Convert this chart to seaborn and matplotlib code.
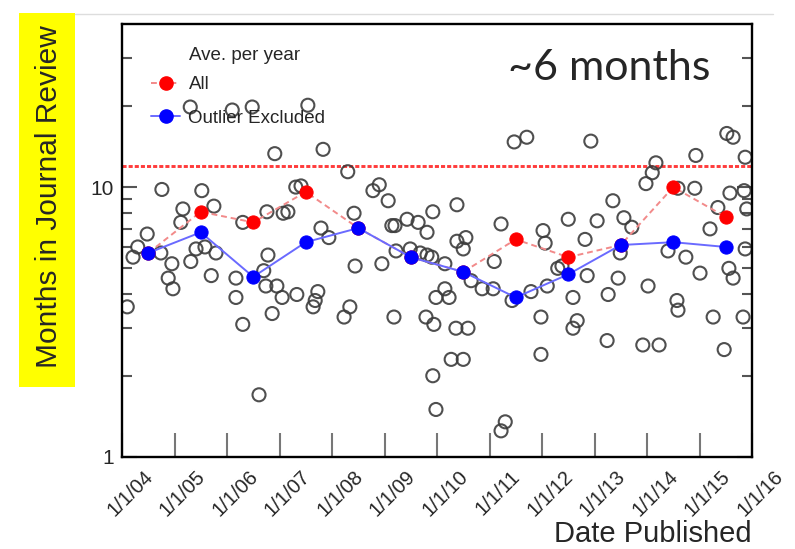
import matplotlib
matplotlib.use("Agg")
import matplotlib.pyplot as plt
import seaborn as sns
from matplotlib.lines import Line2D
from matplotlib.patches import Rectangle
from matplotlib.transforms import ScaledTranslation
from matplotlib.ticker import FixedLocator, FixedFormatter, NullFormatter

# Individual papers: publication date (decimal year) and months spent in review
pub_date = [
    2004.10, 2004.21, 2004.30, 2004.48, 2004.74, 2004.76, 2004.88, 2004.95, 2004.97,
    2005.12, 2005.16, 2005.30, 2005.31, 2005.41, 2005.52, 2005.58, 2005.70, 2005.75, 2005.79,
    2006.10, 2006.17, 2006.17, 2006.30, 2006.30, 2006.48, 2006.61, 2006.70, 2006.76, 2006.74,
    2006.78, 2006.86, 2006.91, 2006.95,
    2007.05, 2007.07, 2007.16, 2007.31, 2007.33, 2007.41, 2007.54, 2007.64, 2007.68, 2007.73,
    2007.79, 2007.83, 2007.94,
    2008.23, 2008.30, 2008.34, 2008.42, 2008.44, 2008.78, 2008.90, 2008.95,
    2009.07, 2009.14, 2009.20, 2009.18, 2009.22, 2009.43, 2009.49, 2009.64, 2009.68, 2009.81,
    2009.90, 2009.81, 2009.79, 2009.92, 2009.94, 2009.92, 2009.98, 2009.98,
    2010.15, 2010.15, 2010.23, 2010.27, 2010.36, 2010.38, 2010.38, 2010.50, 2010.55, 2010.50,
    2010.59, 2010.65, 2010.86,
    2011.07, 2011.09, 2011.22, 2011.22, 2011.30, 2011.43, 2011.47, 2011.71, 2011.79, 2011.98,
    2011.98,
    2012.02, 2012.06, 2012.10, 2012.30, 2012.38, 2012.50, 2012.59, 2012.59, 2012.67, 2012.82,
    2012.86, 2012.93,
    2013.05, 2013.24, 2013.26, 2013.35, 2013.45, 2013.49, 2013.56, 2013.71, 2013.92, 2013.98,
    2014.02, 2014.10, 2014.17, 2014.23, 2014.40, 2014.57, 2014.59, 2014.59, 2014.74, 2014.91,
    2014.93,
    2015.01, 2015.20, 2015.26, 2015.35, 2015.47, 2015.52, 2015.64, 2015.56, 2015.64, 2015.58,
    2015.83, 2015.85, 2015.87, 2015.87, 2015.90,
]
review_months = [
    3.6, 5.5, 6.0, 6.7, 5.7, 9.8, 4.6, 5.2, 4.2,
    7.4, 8.3, 19.8, 5.3, 5.9, 9.7, 6.0, 4.7, 8.5, 5.7,
    19.3, 4.6, 3.9, 7.4, 3.1, 19.8, 1.7, 4.9, 8.1, 4.3,
    5.6, 3.4, 13.3, 4.3,
    3.9, 8.0, 8.1, 10.0, 4.0, 10.1, 20.1, 3.6, 3.8, 4.1,
    7.05, 13.8, 6.5,
    3.3, 11.4, 3.6, 8.0, 5.1, 9.7, 10.2, 5.2,
    8.9, 7.2, 7.2, 3.3, 5.8, 7.6, 5.9, 7.4, 5.7, 5.6,
    5.5, 6.8, 3.3, 8.1, 3.1, 2.0, 3.9, 1.5,
    5.2, 4.2, 3.9, 2.3, 3.0, 8.6, 6.3, 5.9, 6.5, 2.3,
    3.0, 4.5, 4.2,
    4.2, 5.3, 7.3, 1.25, 1.35, 3.8, 14.7, 15.3, 4.1, 3.3,
    2.4,
    6.9, 6.2, 4.3, 5.0, 5.1, 7.6, 3.9, 3.0, 3.2, 6.4,
    4.7, 14.8,
    7.5, 2.7, 4.0, 8.9, 4.6, 5.7, 7.7, 7.1, 2.6, 10.3,
    4.3, 11.3, 12.3, 2.6, 5.8, 3.8, 3.5, 9.9, 5.5, 9.9,
    13.1,
    4.8, 7.0, 3.3, 8.4, 2.5, 15.8, 15.3, 5.0, 4.6, 9.5,
    3.3, 9.7, 12.9, 5.9, 8.3,
]

# Yearly averages, plotted at mid-year
avg_year = [2004.5, 2005.5, 2006.5, 2007.5, 2008.5, 2009.5,
            2010.5, 2011.5, 2012.5, 2013.5, 2014.5, 2015.5]
avg_all = [5.7, 8.1, 7.4, 9.6, 7.05, 5.5, 4.85, 6.4, 5.5, 6.1, 10.0, 7.75]
avg_excluded = [5.7, 6.8, 4.65, 6.25, 7.05, 5.5, 4.85, 3.9, 4.75, 6.1, 6.25, 6.0]

# Overall mean over all papers
overall_mean = 12.0

year_ticks = [2004, 2005, 2006, 2007, 2008, 2009, 2010, 2011, 2012, 2013, 2014, 2015, 2016]
year_labels = ["1/1/04", "1/1/05", "1/1/06", "1/1/07", "1/1/08", "1/1/09", "1/1/10",
               "1/1/11", "1/1/12", "1/1/13", "1/1/14", "1/1/15", "1/1/16"]
month_ticks = [1, 10]
month_labels = ["1", "10"]
month_minor = [2, 3, 4, 5, 6, 7, 8, 9, 20, 30]

sns.set_style("white")
plt.rcParams["font.family"] = ["Liberation Sans", "DejaVu Sans"]

W, H = 795, 549
fig = plt.figure(figsize=(W / 100, H / 100), dpi=100)
ax = fig.add_axes([122 / W, 1 - 457 / H, 630 / W, 433 / H])

# individual papers
sns.scatterplot(x=pub_date, y=review_months, ax=ax, s=88, marker="o",
                facecolor="none", edgecolor="#3c3c3c", linewidth=1.5,
                alpha=0.9, zorder=2)

# overall mean
ax.axhline(overall_mean, color="#ff3b3b", linestyle=(0, (1.4, 0.7)),
           linewidth=2.1, zorder=1)

# yearly averages
red_line = "#f28a8a"
blue_line = "#6a6aff"
sns.lineplot(x=avg_year, y=avg_all, ax=ax, color=red_line, linestyle=(0, (3, 2)),
             linewidth=1.4, marker="o", markersize=9.5, markerfacecolor="#ff0000",
             markeredgecolor="#ff0000", zorder=3)
sns.lineplot(x=avg_year, y=avg_excluded, ax=ax, color=blue_line, linestyle="-",
             linewidth=1.4, marker="o", markersize=9.5, markerfacecolor="#0000ff",
             markeredgecolor="#0000ff", zorder=4)

ax.set_yscale("log")
ax.set_ylim(1, 40.2)
ax.set_xlim(2004, 2016)

ax.yaxis.set_major_locator(FixedLocator(month_ticks))
ax.yaxis.set_major_formatter(FixedFormatter(month_labels))
ax.yaxis.set_minor_locator(FixedLocator(month_minor))
ax.yaxis.set_minor_formatter(NullFormatter())
ax.xaxis.set_major_locator(FixedLocator(year_ticks))
ax.xaxis.set_major_formatter(FixedFormatter(year_labels))

for side in ["left", "right", "top", "bottom"]:
    ax.spines[side].set_color("black")
    ax.spines[side].set_linewidth(1.7)

ax.tick_params(axis="x", which="major", direction="in", length=17, width=1.5,
               color="#777777", labelsize=14.5, pad=7, top=False, bottom=True)
ax.tick_params(axis="y", which="major", direction="in", length=11, width=1.5,
               color="#555555", labelsize=15, pad=6, left=True, right=True)
ax.tick_params(axis="y", which="minor", direction="in", length=7, width=1.5,
               color="#555555", left=True, right=True)

shift = ScaledTranslation(8 / 100, 0, fig.dpi_scale_trans)
for lab in ax.get_xticklabels():
    lab.set_rotation(45)
    lab.set_ha("center")
    lab.set_va("top")
    lab.set_transform(lab.get_transform() + shift)

ax.set_xlabel("")
ax.set_ylabel("")

# legend
handles = [
    Line2D([], [], color=red_line, linestyle=(0, (3, 2)), linewidth=1.4, marker="o",
           markersize=9.5, markerfacecolor="#ff0000", markeredgecolor="#ff0000"),
    Line2D([], [], color=blue_line, linewidth=1.4, marker="o",
           markersize=9.5, markerfacecolor="#0000ff", markeredgecolor="#0000ff"),
]
ax.legend(handles, ["All", "Outlier Excluded"], loc="upper left",
          bbox_to_anchor=((151 - 122) / 630, (457 - 76) / 433), frameon=False,
          fontsize=13.5, handlelength=1.55, handletextpad=0.45, labelspacing=0.87,
          borderpad=0, borderaxespad=0)
fig.text(189 / W, 1 - 55 / H, "Ave. per year", ha="left", va="center", fontsize=13.5)

# y label on a yellow band
fig.add_artist(Rectangle((19 / W, 1 - 387 / H), 56 / W, 374 / H,
                         transform=fig.transFigure, facecolor="#ffff00",
                         edgecolor="none", zorder=0))
fig.text(49 / W, 1 - 197 / H, "Months in Journal Review", rotation=90,
         ha="center", va="center", fontsize=21.5)

# x label
fig.text(752 / W, 1 - 548.5 / H, "Date Published", ha="right", va="bottom",
         fontsize=21)

# annotation
fig.text(508 / W, 1 - 80 / H, "~6 months", ha="left", va="baseline",
         fontsize=31, family=["Lato", "DejaVu Sans"])

# separator line across the top
fig.add_artist(Line2D([75 / W, 773 / W], [1 - 14 / H, 1 - 14 / H],
                      transform=fig.transFigure, color="#dddddd", linewidth=1))

fig.savefig("out.png", dpi=100)
